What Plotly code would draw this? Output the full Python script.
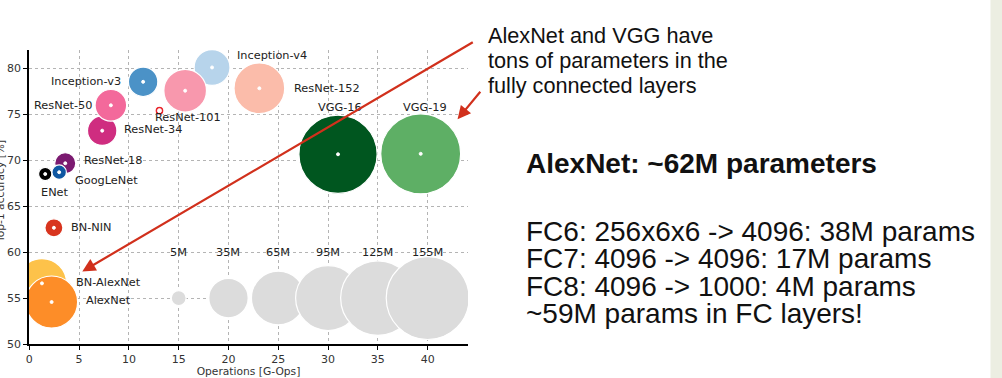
import plotly.graph_objects as go

# ---------------- data ----------------
models = ["BN-AlexNet", "AlexNet", "BN-NIN", "ENet", "ResNet-18", "GoogLeNet",
          "ResNet-34", "ResNet-50", "Inception-v3", "", "Inception-v4",
          "ResNet-101", "ResNet-152", "VGG-16", "VGG-19"]
gops = [1.27, 2.24, 2.47, 1.6, 3.61, 3.0, 7.32, 8.19, 11.43, 13.07, 18.35,
        15.65, 23.1, 31.0, 39.3]
top1 = [56.6, 54.57, 62.65, 68.5, 69.67, 68.7, 73.22, 75.98, 78.54, 75.4, 80.1,
        77.57, 77.83, 70.65, 70.7]
params_m = [55, 61, 7.3, 4, 10, 4.7, 19.5, 22.5, 19.5, 1.8, 29, 41, 58, 138, 144]

legend_labels = ["5M", "35M", "65M", "95M", "125M", "155M"]
legend_params = [5, 35, 65, 95, 125, 155]
legend_x = [15, 20, 25, 30, 35, 40]
legend_y = 55
legend_label_y = 60

x_ticks = [0, 5, 10, 15, 20, 25, 30, 35, 40]
y_ticks = [50, 55, 60, 65, 70, 75, 80]

note_lines = ["AlexNet and VGG have", "tons of parameters in the",
              "fully connected layers"]
title_line = "AlexNet: ~62M parameters"
fc_lines = ["FC6: 256x6x6 -> 4096: 38M params",
            "FC7: 4096 -> 4096: 17M params",
            "FC8: 4096 -> 1000: 4M params",
            "~59M params in FC layers!"]

# ---------------- styles ----------------
colors = ["#fdc24a", "#fd8d28", "#d8341e", "#000000", "#7b1a70", "#0f57a2",
          "#cf2d80", "#f3699b", "#4b92c7", "#e8242a", "#b7d4eb",
          "#f898ad", "#fbbcaa", "#00561f", "#5eaf65"]
label_pos = {  # model: (x, y, anchor)
    "Inception-v4": (20.7, 81.45, "left"),
    "Inception-v3": (9.4, 78.55, "right"),
    "ResNet-50": (6.45, 76.0, "right"),
    "ResNet-101": (12.45, 74.67, "left"),
    "ResNet-152": (26.4, 77.83, "left"),
    "ResNet-34": (9.3, 73.3, "left"),
    "ResNet-18": (5.3, 69.96, "left"),
    "GoogLeNet": (4.4, 67.75, "left"),
    "ENet": (0.95, 66.5, "left"),
    "BN-NIN": (4.0, 62.7, "left"),
    "BN-AlexNet": (4.5, 56.74, "left"),
    "AlexNet": (5.45, 54.74, "left"),
    "VGG-16": (28.8, 75.76, "left"),
    "VGG-19": (37.3, 75.76, "left"),
}
SIZEREF = 0.0451
CHART_FONT = "DejaVu Sans"
SLIDE_FONT = "Liberation Sans"
ARROW = "#d1301c"
LABEL_SIZE = 11.3

L, R, T, B = 29, 534, 50, 34
W, H = 1002, 378
PW, PH = W - L - R, H - T - B


def px(xp):
    return (xp - L) / PW


def py(yp):
    return (H - B - yp) / PH


fig = go.Figure()

# size legend bubbles (light gray)
for xv, pv in zip(legend_x, legend_params):
    fig.add_trace(go.Scatter(
        x=[xv], y=[legend_y], mode="markers", hoverinfo="skip",
        marker=dict(size=[pv], sizemode="area", sizeref=SIZEREF, opacity=1,
                    color="#dcdcdc", line=dict(color="white", width=1.2)),
        showlegend=False))

# model bubbles, one by one to keep draw order
for i in range(len(models)):
    fig.add_trace(go.Scatter(
        x=[gops[i]], y=[top1[i]], mode="markers", hoverinfo="skip",
        marker=dict(size=[params_m[i]], sizemode="area", sizeref=SIZEREF,
                    opacity=1, color=colors[i],
                    line=dict(color="white", width=1.2)),
        showlegend=False))

# white centre dots
fig.add_trace(go.Scatter(
    x=gops, y=top1, mode="markers", hoverinfo="skip",
    marker=dict(size=[4 if m == "" else 3 for m in models], color="white",
                opacity=1),
    showlegend=False))

annotations = []
for m in models:
    if m in label_pos:
        lx, ly, anc = label_pos[m]
        annotations.append(dict(x=lx, y=ly, xref="x", yref="y", text=m,
                                showarrow=False, xanchor=anc, yanchor="middle",
                                font=dict(family=CHART_FONT, size=LABEL_SIZE,
                                          color="#222222")))
for lab, xv in zip(legend_labels, legend_x):
    annotations.append(dict(x=xv, y=legend_label_y, xref="x", yref="y",
                            text=lab, showarrow=False, xanchor="center",
                            yanchor="middle",
                            font=dict(family=CHART_FONT, size=LABEL_SIZE,
                                      color="#222222")))

# y-axis title (mostly cut off by the left edge, as in the slide)
annotations.append(dict(x=px(0), y=py(192), xref="paper", yref="paper",
                        text="Top-1 accuracy [%]", textangle=-90,
                        showarrow=False, xanchor="center", yanchor="middle",
                        font=dict(family=CHART_FONT, size=10.7,
                                  color="#333333")))

# red arrows
annotations.append(dict(x=5.32, y=57.9, xref="x", yref="y", text="",
                        showarrow=True, arrowhead=2, arrowsize=1.2,
                        arrowwidth=2.2, arrowcolor=ARROW,
                        ax=392, ay=-230, axref="pixel", ayref="pixel",
                        standoff=0))
annotations.append(dict(x=43.0, y=74.46, xref="x", yref="y", text="",
                        showarrow=True, arrowhead=2, arrowsize=1.2,
                        arrowwidth=2.2, arrowcolor=ARROW,
                        ax=24, ay=-29, standoff=0))

# slide text
for line, yc in zip(note_lines, [35.5, 60.5, 85.5]):
    annotations.append(dict(x=px(486), y=py(yc), xref="paper", yref="paper",
                            text=line, showarrow=False, xanchor="left",
                            yanchor="middle",
                            font=dict(family=SLIDE_FONT, size=21.7,
                                      color="#111111")))
annotations.append(dict(x=px(524), y=py(163), xref="paper", yref="paper",
                        text="<b>" + title_line + "</b>", showarrow=False,
                        xanchor="left", yanchor="middle",
                        font=dict(family=SLIDE_FONT, size=28,
                                  color="#111111")))
for line, yc in zip(fc_lines, [231, 258.5, 286, 313.5]):
    annotations.append(dict(x=px(524), y=py(yc), xref="paper", yref="paper",
                            text=line, showarrow=False, xanchor="left",
                            yanchor="middle",
                            font=dict(family=SLIDE_FONT, size=28,
                                      color="#111111")))

shapes = [dict(type="rect", xref="paper", yref="paper",
               x0=px(990.5), x1=px(1002), y0=py(378), y1=py(0),
               fillcolor="#eceee2", line=dict(width=0), layer="above")]

axis_common = dict(showline=True, linecolor="black", linewidth=1.5,
                   ticks="outside", ticklen=4, tickwidth=1.2,
                   tickcolor="black", showgrid=True, gridcolor="#b4b4b4",
                   griddash="dot", gridwidth=1, zeroline=False,
                   automargin=False,
                   tickfont=dict(family=CHART_FONT, size=11, color="#333333"))

fig.update_layout(
    width=W, height=H, margin=dict(l=L, r=R, t=T, b=B),
    paper_bgcolor="white", plot_bgcolor="white",
    xaxis=dict(range=[-0.03, 44.05], tickvals=x_ticks,
               title=dict(text="Operations [G-Ops]", standoff=3,
                          font=dict(family=CHART_FONT, size=10.7,
                                    color="#333333")),
               **axis_common),
    yaxis=dict(range=[50, 82], tickvals=y_ticks, **axis_common),
    annotations=annotations, shapes=shapes,
)

fig.write_html("out.html", config={"displayModeBar": False},
               post_script="document.body.style.margin='0';"
                           "document.body.style.overflow='hidden';")
